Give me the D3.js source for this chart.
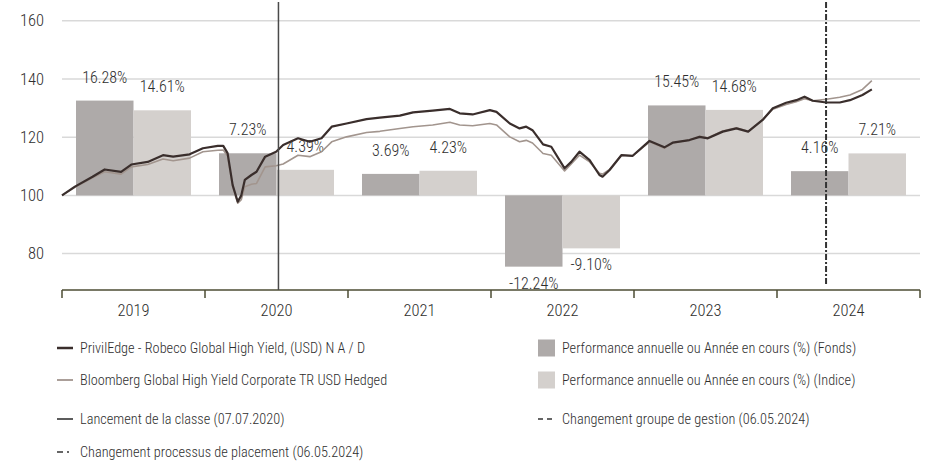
<!DOCTYPE html>
<html>
<head>
<meta charset="utf-8">
<script src="https://cdn.jsdelivr.net/npm/d3@7/dist/d3.min.js"></script>
<style>
  html, body { margin: 0; padding: 0; background: #fff; }
  svg { display: block; }
  text { font-family: "Liberation Sans Narrow", "Arial Narrow", "Roboto Condensed", "DejaVu Sans Condensed", sans-serif; font-weight: 300; fill: #2e2e2e; }
</style>
</head>
<body>
<svg id="chart" width="928" height="464"></svg>
<script>
// ---------- DATA ----------
const years = ["2019", "2020", "2021", "2022", "2023", "2024"];
const fundPerf = [16.28, 7.23, 3.69, -12.24, 15.45, 4.16];
const indexPerf = [14.61, 4.39, 4.23, -9.10, 14.68, 7.21];
const yTicks = [80, 100, 120, 140, 160];

const dates = ["2019-01-01","2019-02-03","2019-03-20","2019-04-20","2019-06-01","2019-06-27","2019-08-08","2019-09-16","2019-10-12","2019-11-23","2019-12-27",
  "2020-02-03","2020-02-17","2020-02-28","2020-03-12","2020-03-25","2020-04-03","2020-04-12","2020-04-29","2020-05-12","2020-06-03","2020-07-01","2020-07-19","2020-08-26","2020-09-25","2020-10-25","2020-11-20","2020-12-28",
  "2021-02-17","2021-03-23","2021-05-13","2021-06-16","2021-08-05","2021-09-18","2021-10-13","2021-11-15","2021-12-29",
  "2022-01-15","2022-02-18","2022-03-15","2022-04-01","2022-04-17","2022-05-14","2022-06-04","2022-07-08","2022-07-25","2022-08-15","2022-09-10","2022-10-05","2022-10-13","2022-10-31","2022-11-30","2022-12-29",
  "2023-02-10","2023-03-20","2023-04-10","2023-05-23","2023-06-18","2023-07-09","2023-08-16","2023-09-20","2023-10-20","2023-11-26","2023-12-22",
  "2024-01-25","2024-02-20","2024-03-12","2024-04-02","2024-05-07","2024-06-10","2024-07-06","2024-08-07","2024-08-31"];
const fundValues = [100,103,106.4,108.9,108.1,110.6,111.5,113.8,113.3,114.1,116.2,
  117.0,117.0,114.5,103.5,97.8,100,105.3,107,108.1,113.3,115,117.3,119.6,118.4,119.6,123.6,124.7,
  126.2,126.7,127.4,128.5,129.1,129.7,128.2,127.8,129.3,
  128.7,124.7,123,123.6,122.4,117.5,116.7,109.3,111.5,115,112.1,107,106.4,108.7,113.8,113.6,
  118.7,116.5,118.1,119,120.1,119.6,121.9,123,121.9,125.9,129.9,
  131.8,132.7,133.9,132.5,131.9,131.9,132.7,134.5,136.4];
const indexValues = [100,102.8,106,108.1,107.3,109.8,110.6,112.5,111.9,112.8,115,
  115.5,115.6,113.5,103,97.3,98.5,103,103.8,104.1,109.8,110.2,110.8,113.8,113.3,115,118.4,120.1,
  121.6,122,123,123.6,124.2,125.1,124.2,123.9,124.7,
  124.2,120.1,118.4,118.9,118,114.4,113.8,108.4,110.8,113.8,111.5,107.6,107.3,108.9,113.8,113.6,
  118.4,116.2,118,119,120.3,119.8,122.1,123.2,122,126,129.6,
  131.2,132.2,133.2,132.5,133,133.7,134.5,136.4,139.4];

const launchDate = "2020-07-07";
const changeDate = "2024-05-06";

const legendLines = [
  {label: "PrivilEdge - Robeco Global High Yield, (USD) N A / D", type: "fund"},
  {label: "Bloomberg Global High Yield Corporate TR USD Hedged", type: "index"},
  {label: "Lancement de la classe (07.07.2020)", type: "launch"},
  {label: "Changement processus de placement (06.05.2024)", type: "process"}
];
const legendBars = [
  {label: "Performance annuelle ou Année en cours (%) (Fonds)", type: "fundBar"},
  {label: "Performance annuelle ou Année en cours (%) (Indice)", type: "indexBar"},
  {label: "Changement groupe de gestion (06.05.2024)", type: "group"}
];

// ---------- STYLE ----------
const C = {
  fundLine: "#3a2e2c", indexLine: "#a2958e",
  fundBar: "#aeaaa9", indexBar: "#d4d0cd",
  grid: "#d9d9d9", axis: "#4d4d33", vline: "#4a4a4a", dash: "#333"
};

const svg = d3.select("#chart");
const parse = d3.timeParse("%Y-%m-%d");
const pLeft = 62, pRight = 920, pTop = 20.7, pBottom = 290;

const x = d3.scaleTime().domain([parse("2019-01-01"), parse("2025-01-01")]).range([pLeft, pRight]);
const y = d3.scaleLinear().domain([67.5, 160]).range([pBottom, pTop]);
const y2 = d3.scaleLinear().domain([-16.25, 30]).range([pBottom, pTop]);
const xb = d3.scaleBand().domain(years).range([pLeft, pRight]).padding(0);
const xs = d3.scaleBand().domain(["fund", "index"]).range([14, xb.bandwidth() - 14]);

// grid
svg.append("g").selectAll("line").data(yTicks).join("line")
  .attr("x1", pLeft).attr("x2", pRight)
  .attr("y1", d => y(d)).attr("y2", d => y(d))
  .attr("stroke", C.grid).attr("stroke-width", 1.5);

// y tick labels
svg.append("g").selectAll("text").data(yTicks).join("text")
  .attr("x", 44).attr("y", d => y(d)).attr("dy", "0.35em")
  .attr("text-anchor", "end").attr("font-size", 16.5)
  .text(d => d);

// bars
const barData = years.flatMap((yr, i) => [
  {year: yr, key: "fund", v: fundPerf[i]},
  {year: yr, key: "index", v: indexPerf[i]}
]);
svg.append("g").selectAll("rect").data(barData).join("rect")
  .attr("x", d => xb(d.year) + xs(d.key))
  .attr("width", xs.bandwidth())
  .attr("y", d => Math.min(y2(d.v), y2(0)))
  .attr("height", d => Math.abs(y2(d.v) - y2(0)))
  .attr("fill", d => d.key === "fund" ? C.fundBar : C.indexBar);

// bar labels
svg.append("g").selectAll("text").data(barData).join("text")
  .attr("x", d => xb(d.year) + xs(d.key) + xs.bandwidth() / 2)
  .attr("y", d => d.v >= 0 ? y2(d.v) - 18 : y2(d.v) + 22)
  .attr("text-anchor", "middle").attr("font-size", 16)
  .text(d => d.v.toFixed(2) + "%");

// lines
const series = dates.map((d, i) => ({date: parse(d), fund: fundValues[i], index: indexValues[i]}));
const lineIdx = d3.line().x(d => x(d.date)).y(d => y(d.index));
const lineFund = d3.line().x(d => x(d.date)).y(d => y(d.fund));
svg.append("path").datum(series).attr("d", lineIdx)
  .attr("fill", "none").attr("stroke", C.indexLine).attr("stroke-width", 1.6).attr("stroke-linejoin", "round");
svg.append("path").datum(series).attr("d", lineFund)
  .attr("fill", "none").attr("stroke", C.fundLine).attr("stroke-width", 2.2).attr("stroke-linejoin", "round");

// x axis
svg.append("line").attr("x1", pLeft).attr("x2", pRight).attr("y1", pBottom).attr("y2", pBottom)
  .attr("stroke", C.axis).attr("stroke-width", 1.5);
const bounds = years.map(yr => xb(yr)).concat([pRight]);
svg.append("g").selectAll("line").data(bounds).join("line")
  .attr("x1", d => d).attr("x2", d => d).attr("y1", pBottom).attr("y2", pBottom + 8)
  .attr("stroke", C.axis).attr("stroke-width", 1.5);
svg.append("g").selectAll("text").data(years).join("text")
  .attr("x", d => xb(d) + xb.bandwidth() / 2).attr("y", 316)
  .attr("text-anchor", "middle").attr("font-size", 16.5)
  .text(d => d);

// vertical event lines
const xl = x(parse(launchDate));
svg.append("line").attr("x1", xl).attr("x2", xl).attr("y1", 2).attr("y2", pBottom)
  .attr("stroke", C.vline).attr("stroke-width", 1.5);
const xc = x(parse(changeDate));
svg.append("line").attr("x1", xc).attr("x2", xc).attr("y1", 2).attr("y2", pBottom - 4)
  .attr("stroke", C.dash).attr("stroke-width", 2).attr("stroke-dasharray", "6,6");
svg.append("line").attr("x1", xc).attr("x2", xc).attr("y1", 2).attr("y2", pBottom - 4)
  .attr("stroke", C.dash).attr("stroke-width", 2).attr("stroke-dasharray", "2,10").attr("stroke-dashoffset", -8);

// legend
const legL = svg.append("g");
const lyL = [348, 380, 419, 452];
legendLines.forEach((d, i) => {
  const g = legL.append("g").attr("transform", `translate(0,${lyL[i]})`);
  if (d.type === "fund") g.append("line").attr("x1", 57).attr("x2", 73).attr("stroke", C.fundLine).attr("stroke-width", 2.5);
  if (d.type === "index") g.append("line").attr("x1", 57).attr("x2", 73).attr("stroke", C.indexLine).attr("stroke-width", 1.8);
  if (d.type === "launch") g.append("line").attr("x1", 57).attr("x2", 73).attr("stroke", C.vline).attr("stroke-width", 1.8);
  if (d.type === "process") {
    g.append("line").attr("x1", 57).attr("x2", 63).attr("stroke", C.dash).attr("stroke-width", 1.5);
    g.append("line").attr("x1", 67).attr("x2", 69).attr("stroke", C.dash).attr("stroke-width", 1.5);
  }
  g.append("text").attr("x", 80).attr("dy", "0.35em").attr("font-size", 14.3).text(d.label);
});
const legR = svg.append("g");
const lyR = [348, 380, 419];
legendBars.forEach((d, i) => {
  const g = legR.append("g").attr("transform", `translate(0,${lyR[i]})`);
  if (d.type === "fundBar") g.append("rect").attr("x", 538).attr("y", -8.5).attr("width", 17).attr("height", 17).attr("fill", C.fundBar);
  if (d.type === "indexBar") g.append("rect").attr("x", 538).attr("y", -8.5).attr("width", 17).attr("height", 17).attr("fill", C.indexBar);
  if (d.type === "group") {
    g.append("line").attr("x1", 538).attr("x2", 543).attr("stroke", C.dash).attr("stroke-width", 1.5);
    g.append("line").attr("x1", 547).attr("x2", 552).attr("stroke", C.dash).attr("stroke-width", 1.5);
  }
  g.append("text").attr("x", 562).attr("dy", "0.35em").attr("font-size", 14.3).text(d.label);
});
</script>
</body>
</html>
